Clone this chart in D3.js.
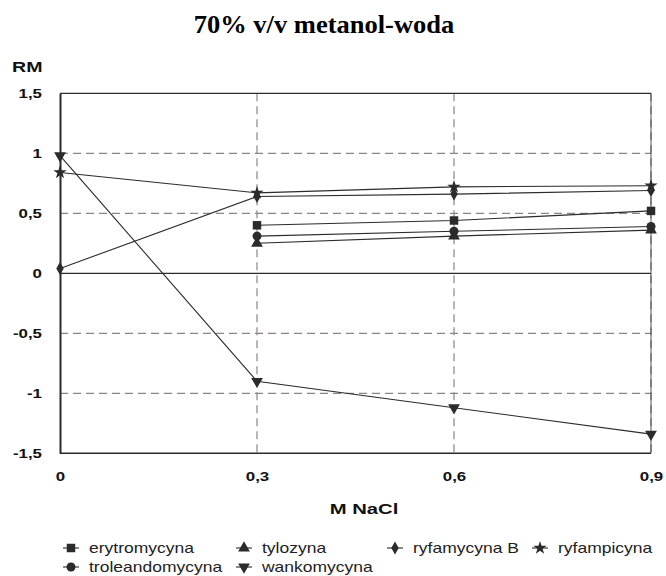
<!DOCTYPE html>
<html>
<head>
<meta charset="utf-8">
<script src="https://cdn.jsdelivr.net/npm/d3@7"></script>
<style>
  body { margin: 0; background: #fff; }
  svg { display: block; }
</style>
</head>
<body>
<svg id="chart" width="666" height="576"></svg>
<script>
// NaCl concentrations (M) and RM values for each antibiotic
const concentrations = [0, 0.3, 0.6, 0.9];
const seriesNames = ["erytromycyna", "tylozyna", "ryfamycyna B", "ryfampicyna", "troleandomycyna", "wankomycyna"];
const erytromycyna    = [null, 0.40, 0.44, 0.52];
const tylozyna        = [null, 0.25, 0.31, 0.36];
const ryfamycynaB     = [0.04, 0.64, 0.66, 0.69];
const ryfampicyna     = [0.84, 0.67, 0.72, 0.73];
const troleandomycyna = [null, 0.31, 0.35, 0.39];
const wankomycyna     = [0.98, -0.90, -1.12, -1.34];
const yTicks = [-1.5, -1, -0.5, 0, 0.5, 1, 1.5];
const xTicks = [0, 0.3, 0.6, 0.9];

const seriesValues = [erytromycyna, tylozyna, ryfamycynaB, ryfampicyna, troleandomycyna, wankomycyna];
const markerTypes = [d3.symbolSquare, d3.symbolTriangle, d3.symbolDiamond, d3.symbolStar, d3.symbolCircle, "down"];
const markerSizes = [72, 60, 48, 55, 64, 60];

(function draw() {
  const svg = d3.select("#chart");
  const plotL = 60, plotR = 651, plotT = 93.3, plotB = 453.3;
  const x = d3.scaleLinear().domain([0, 0.9]).range([plotL, plotR]);
  const y = d3.scaleLinear().domain([-1.5, 1.5]).range([plotB, plotT]);
  const fmt = v => String(v).replace(".", ",");
  const ink = "#2b2b2b";
  const sans = "Liberation Sans, Arial, sans-serif";
  const wide = 1.3; // horizontal stretch of the sans-serif lettering

  // Places a horizontally stretched text at (tx, ty)
  function label(parent, tx, ty, str, size, weight, anchor, sx) {
    return parent.append("text")
      .attr("transform", `translate(${tx},${ty}) scale(${sx},1)`)
      .attr("text-anchor", anchor)
      .attr("font-family", sans).attr("font-weight", weight)
      .attr("font-size", size).attr("fill", "#111").text(str);
  }

  // Title
  svg.append("text")
    .attr("transform", "translate(324,33) scale(1.06,1)")
    .attr("text-anchor", "middle")
    .attr("font-family", "Liberation Serif, Times New Roman, serif")
    .attr("font-weight", "bold").attr("font-size", 25).attr("fill", "#000")
    .text("70% v/v metanol-woda");

  // Gridlines
  const grid = svg.append("g");
  grid.selectAll("line.h").data(yTicks.filter(v => v !== 0 && v !== 1.5 && v !== -1.5)).enter()
    .append("line").attr("x1", plotL).attr("x2", plotR)
    .attr("y1", d => y(d)).attr("y2", d => y(d))
    .attr("stroke", "#8a8585").attr("stroke-width", 1.2).attr("stroke-dasharray", "8,5");
  grid.selectAll("line.v").data(xTicks.slice(1)).enter()
    .append("line").attr("y1", plotT).attr("y2", plotB)
    .attr("x1", d => x(d)).attr("x2", d => x(d))
    .attr("stroke", "#8a8585").attr("stroke-width", 1.2).attr("stroke-dasharray", "8,5");

  // Zero line and frame
  svg.append("line").attr("x1", plotL).attr("x2", plotR).attr("y1", y(0)).attr("y2", y(0))
    .attr("stroke", ink).attr("stroke-width", 1.2);
  svg.append("line").attr("x1", plotL).attr("x2", plotR).attr("y1", plotT).attr("y2", plotT)
    .attr("stroke", ink).attr("stroke-width", 1.2);
  svg.append("line").attr("x1", plotL).attr("x2", plotR).attr("y1", plotB).attr("y2", plotB)
    .attr("stroke", ink).attr("stroke-width", 1.5);
  svg.append("line").attr("x1", plotR).attr("x2", plotR).attr("y1", plotT).attr("y2", plotB)
    .attr("stroke", ink).attr("stroke-width", 0.8);

  // Y axis
  const yAxis = d3.axisLeft(y).tickValues(yTicks).tickFormat(fmt).tickSize(0).tickPadding(18);
  const ya = svg.append("g").attr("transform", `translate(${plotL},0)`).call(yAxis);
  ya.select(".domain").attr("stroke", ink).attr("stroke-width", 2);
  ya.selectAll("text").attr("font-family", sans)
    .attr("font-weight", "bold").attr("font-size", 13).attr("fill", "#111")
    .attr("x", -18 / wide).attr("transform", `scale(${wide},1)`);

  // X axis labels
  const xAxis = d3.axisBottom(x).tickValues(xTicks).tickFormat(fmt).tickSize(0).tickPadding(18);
  const xa = svg.append("g").attr("transform", `translate(0,${plotB})`).call(xAxis);
  xa.select(".domain").remove();
  xa.selectAll("text").attr("font-family", sans)
    .attr("font-weight", "bold").attr("font-size", 13).attr("fill", "#111")
    .attr("transform", `scale(${wide},1)`);

  // Axis titles
  label(svg, 12, 72, "RM", 14, "bold", "start", 1.4);
  label(svg, 364, 514, "M NaCl", 15, "bold", "middle", 1.35);

  // Marker drawing at a given position
  function marker(parent, i, cx, cy) {
    const t = markerTypes[i];
    const p = parent.append("path");
    if (t === "down") {
      p.attr("d", d3.symbol().type(d3.symbolTriangle).size(markerSizes[i])())
        .attr("transform", `translate(${cx},${cy}) rotate(180)`);
    } else {
      p.attr("d", d3.symbol().type(t).size(markerSizes[i])())
        .attr("transform", `translate(${cx},${cy})`);
    }
    p.attr("fill", ink).attr("stroke", "none");
  }

  // Series lines and markers
  const line = d3.line().defined(d => d.v !== null).x(d => x(d.c)).y(d => y(d.v));
  seriesValues.forEach((vals, i) => {
    const pts = concentrations.map((c, k) => ({ c, v: vals[k] }));
    svg.append("path").datum(pts).attr("d", line)
      .attr("fill", "none").attr("stroke", ink).attr("stroke-width", 1.1);
    pts.filter(d => d.v !== null).forEach(d => marker(svg, i, x(d.c), y(d.v)));
  });

  // Legend
  const legendPos = [
    [63, 548], [236, 548], [387, 548], [532, 548],
    [63, 567], [236, 567]
  ];
  seriesNames.forEach((name, i) => {
    const [lx, ly] = legendPos[i];
    const g = svg.append("g");
    g.append("line").attr("x1", lx).attr("x2", lx + 16).attr("y1", ly).attr("y2", ly)
      .attr("stroke", ink).attr("stroke-width", 1.1);
    marker(g, i, lx + 8, ly);
    label(g, lx + 26, ly + 5, name, 14, "normal", "start", 1.25).attr("fill", "#222");
  });
})();
</script>
</body>
</html>
